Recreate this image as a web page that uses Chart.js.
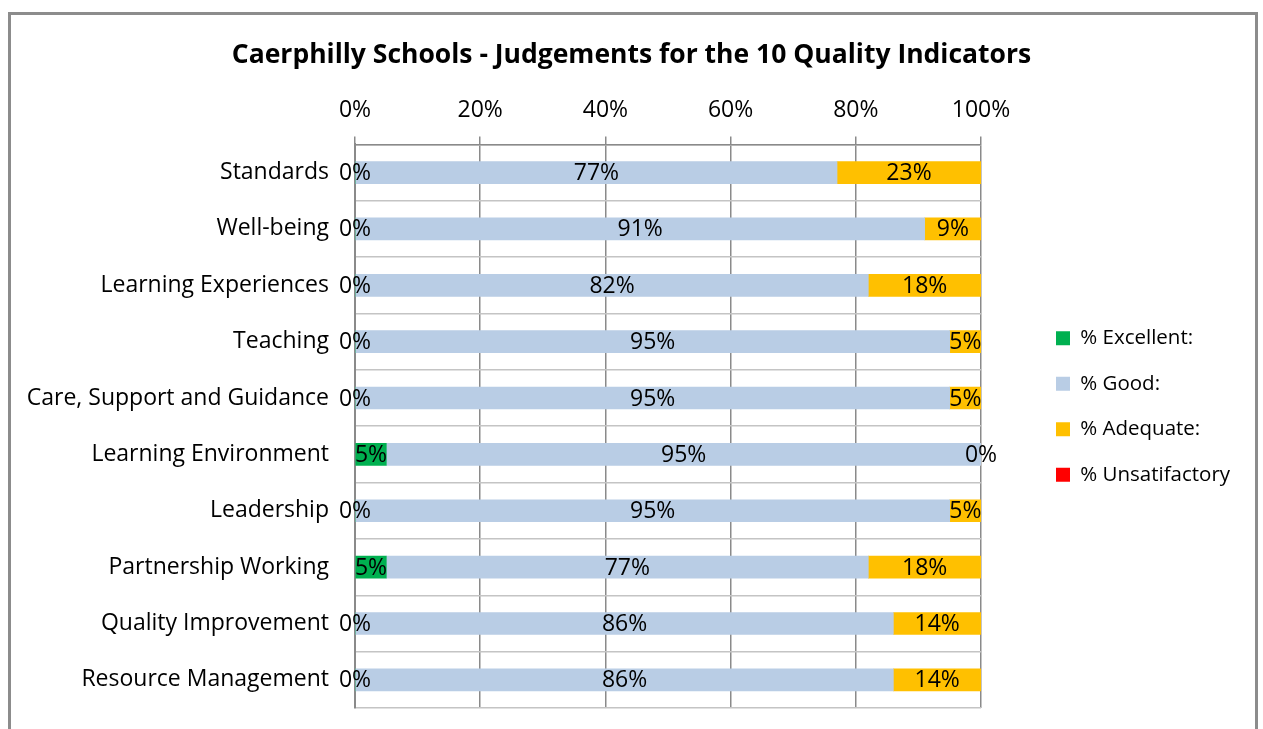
<!DOCTYPE html>
<html>
<head>
<meta charset="utf-8">
<script src="https://cdn.jsdelivr.net/npm/chart.js@4.4.0/dist/chart.umd.min.js"></script>
<style>
  html, body { margin: 0; padding: 0; background: #ffffff; }
  #frame { position: absolute; left: 8px; top: 12px; width: 1250px; height: 740px; border: 3px solid #8c8c8c; box-sizing: border-box; }
  #qiChart { position: absolute; left: 0; top: 0; }
</style>
</head>
<body>
<div id="frame"></div>
<canvas id="qiChart" width="1263" height="729"></canvas>
<script>
// indicadores de calidad
const categories = ['Standards', 'Well-being', 'Learning Experiences', 'Teaching', 'Care, Support and Guidance',
    'Learning Environment', 'Leadership', 'Partnership Working', 'Quality Improvement', 'Resource Management'];
const excellent = [0, 0, 0, 0, 0, 5, 0, 5, 0, 0];
const good = [77, 91, 82, 95, 95, 95, 95, 77, 86, 86];
const adequate = [23, 9, 18, 5, 5, 0, 5, 18, 14, 14];
const unsatisfactory = [0, 0, 0, 0, 0, 0, 0, 0, 0, 0];
const xTicks = [0, 20, 40, 60, 80, 100];

const FONT = "'Open Sans', sans-serif";

// etiquetas de valor encima de cada segmento
const barLabels = {
    id: 'barLabels',
    afterDatasetsDraw(chart) {
        const ctx = chart.ctx;
        ctx.save();
        ctx.font = '23px ' + FONT;
        ctx.fillStyle = '#000000';
        ctx.textAlign = 'center';
        ctx.textBaseline = 'middle';
        chart.data.datasets.forEach((ds, i) => {
            if (ds.showLabels === false) return;
            chart.getDatasetMeta(i).data.forEach((bar, j) => {
                const p = bar.getCenterPoint();
                ctx.fillText(ds.data[j] + '%', p.x, p.y + 1);
            });
        });
        ctx.restore();
    }
};

// leyenda a la derecha, separada del area del grafico
const legendPlace = {
    id: 'legendPlace',
    beforeInit(chart) {
        const fit = chart.legend.fit;
        chart.legend.fit = function() {
            fit.call(this);
            this.width = 282;
        };
    },
    afterLayout(chart) {
        const lg = chart.legend;
        lg.left = 1031;
        lg.right = 1263;
        lg.top = 303;
        lg.bottom = 540;
    }
};

new Chart(document.getElementById('qiChart'), {
    type: 'bar',
    data: {
        labels: categories,
        datasets: [
            { label: '% Excellent:', data: excellent, backgroundColor: '#00b050' },
            { label: '% Good:', data: good, backgroundColor: '#b9cde5' },
            { label: '% Adequate:', data: adequate, backgroundColor: '#ffc000' },
            { label: '% Unsatifactory', data: unsatisfactory, backgroundColor: '#ff0000', showLabels: false }
        ]
    },
    options: {
        indexAxis: 'y',
        responsive: false,
        animation: false,
        barThickness: 22,
        layout: { padding: { left: 0, right: 0, top: 0, bottom: 21 } },
        scales: {
            x: {
                position: 'top',
                stacked: true,
                min: 0,
                max: 100,
                afterBuildTicks(scale) {
                    scale.ticks = xTicks.map(v => ({ value: v }));
                },
                ticks: {
                    callback: v => v + '%',
                    color: '#000000',
                    font: { family: FONT, size: 23 },
                    padding: 12
                },
                grid: { color: '#8a8a8a', lineWidth: 1.5, drawTicks: true, tickLength: 8 },
                border: { color: '#8a8a8a', width: 1.5 }
            },
            y: {
                stacked: true,
                afterFit(scale) {
                    scale.width = 355;
                    scale.paddingTop = 0;//sin margen extra arriba/abajo
                    scale.paddingBottom = 0;
                },
                ticks: {
                    color: '#000000',
                    font: { family: FONT, size: 23 },
                    padding: 26
                },
                grid: { color: '#c4c4c4', lineWidth: 1.5, drawTicks: false, offset: true },
                border: { color: '#8a8a8a', width: 2 }
            }
        },
        plugins: {
            title: {
                display: true,
                text: 'Caerphilly Schools - Judgements for the 10 Quality Indicators',
                color: '#000000',
                font: { family: FONT, size: 26.5, weight: 'bold' },
                padding: { top: 40, bottom: 13 }
            },
            legend: {
                position: 'right',
                align: 'start',
                labels: {
                    color: '#000000',
                    font: { family: FONT, size: 20.5 },
                    boxWidth: 14,
                    boxHeight: 14,
                    padding: 25
                }
            },
            tooltip: { enabled: false }
        }
    },
    plugins: [barLabels, legendPlace]
});
</script>
</body>
</html>
